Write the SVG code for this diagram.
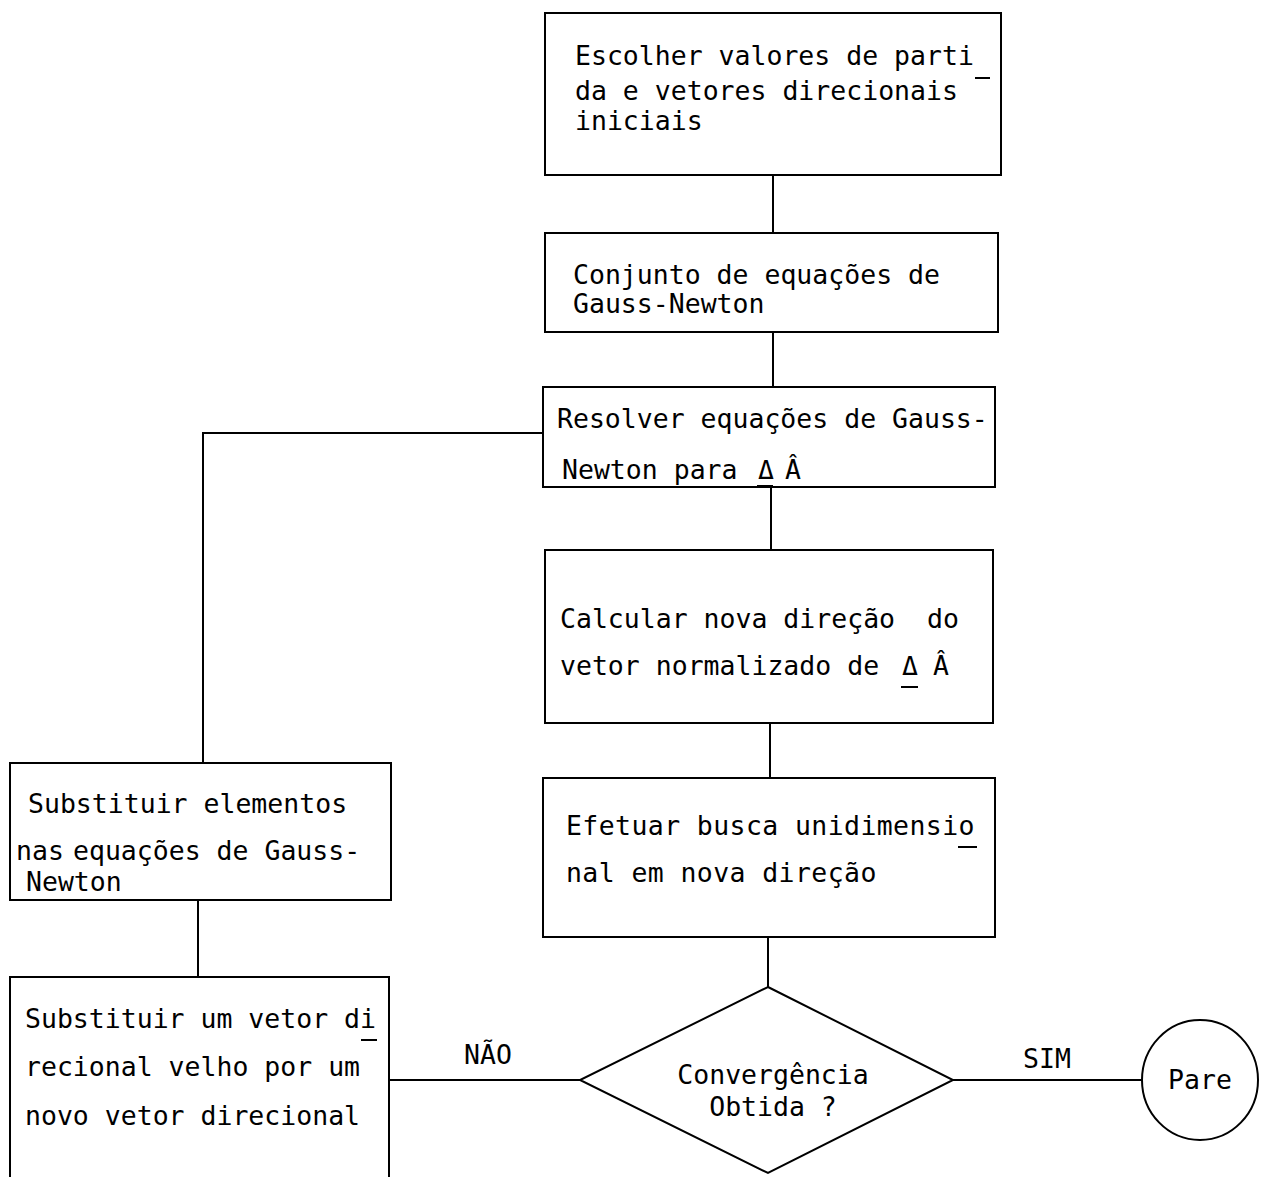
<svg xmlns="http://www.w3.org/2000/svg" width="1265" height="1177" viewBox="0 0 1265 1177">
<style>
  .box{fill:#fff;stroke:#000;stroke-width:2}
  .ln{fill:none;stroke:#000;stroke-width:2}
  text{font-family:"DejaVu Sans Mono","Liberation Mono",monospace;font-size:26.5px;fill:#000;white-space:pre}
  .c{text-anchor:middle}
</style>
<rect width="1265" height="1177" fill="#fff"/>
<g id="connectors">
  <line class="ln" x1="773" y1="175" x2="773" y2="233"/>
  <line class="ln" x1="773" y1="332" x2="773" y2="387"/>
  <line class="ln" x1="771" y1="487" x2="771" y2="550"/>
  <line class="ln" x1="770" y1="723" x2="770" y2="778"/>
  <line class="ln" x1="768" y1="937" x2="768" y2="987"/>
  <polyline class="ln" points="543,433 203,433 203,763"/>
  <line class="ln" x1="198" y1="900" x2="198" y2="977"/>
  <line class="ln" x1="389" y1="1080" x2="580" y2="1080"/>
  <line class="ln" x1="953" y1="1080" x2="1142" y2="1080"/>
  <text class="c" x="488" y="1064">NÃO</text>
  <text class="c" x="1047" y="1068">SIM</text>
</g>
<g id="n1">
  <rect class="box" x="545" y="13" width="456" height="162"/>
  <text x="575" y="65">Escolher valores de parti</text>
  <text x="575" y="100">da e vetores direcionais</text>
  <text x="575" y="130">iniciais</text>
  <line class="ln" x1="975" y1="78" x2="990" y2="78"/>
</g>
<g id="n2">
  <rect class="box" x="545" y="233" width="453" height="99"/>
  <text x="573" y="284">Conjunto de equações de</text>
  <text x="573" y="313">Gauss-Newton</text>
</g>
<g id="n3">
  <rect class="box" x="543" y="387" width="452" height="100"/>
  <text x="557" y="428">Resolver equações de Gauss-</text>
  <text x="562" y="479">Newton para <tspan x="758">Δ</tspan><tspan x="785">Â</tspan></text>
  <line class="ln" x1="757" y1="486" x2="773" y2="486"/>
</g>
<g id="n4">
  <rect class="box" x="545" y="550" width="448" height="173"/>
  <text x="560" y="628" xml:space="preserve">Calcular nova direção  do</text>
  <text x="560" y="675">vetor normalizado de <tspan x="902">Δ</tspan><tspan x="933">Â</tspan></text>
  <line class="ln" x1="901" y1="687" x2="918" y2="687"/>
</g>
<g id="n5">
  <rect class="box" x="543" y="778" width="452" height="159"/>
  <text x="566" y="835" letter-spacing="0.4">Efetuar busca unidimensio</text>
  <text x="566" y="882" letter-spacing="0.4">nal em nova direção</text>
  <line class="ln" x1="958" y1="847" x2="977" y2="847"/>
</g>
<g id="n6">
  <rect class="box" x="10" y="763" width="381" height="137"/>
  <text x="28" y="813">Substituir elementos</text>
  <text x="16" y="860">nas<tspan x="73">equações de Gauss-</tspan></text>
  <text x="26" y="891">Newton</text>
</g>
<g id="n7">
  <rect class="box" x="10" y="977" width="379" height="220"/>
  <text x="25" y="1028">Substituir um vetor di</text>
  <text x="25" y="1076">recional velho por um</text>
  <text x="25" y="1125">novo vetor direcional</text>
  <line class="ln" x1="361" y1="1040" x2="377" y2="1040"/>
</g>
<g id="n8">
  <polygon class="box" points="768,987 953,1080 768,1173 580,1080"/>
  <text class="c" x="773" y="1084">Convergência</text>
  <text class="c" x="773" y="1116">Obtida ?</text>
</g>
<g id="n9">
  <ellipse class="box" cx="1200" cy="1080" rx="58" ry="60"/>
  <text class="c" x="1200" y="1089">Pare</text>
</g>
</svg>
